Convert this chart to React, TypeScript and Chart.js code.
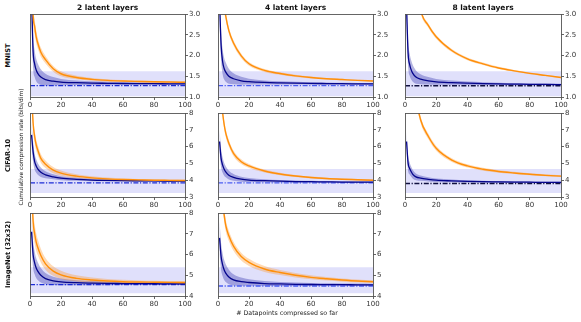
import React, { useEffect, useRef } from 'react';
import { Chart, registerables } from 'chart.js';
Chart.register(...registerables);

// x positions (datapoints compressed so far)
const N = [1, 2, 3, 4, 5, 7, 10, 15, 20, 30, 40, 50, 60, 70, 80, 90, 100];

// MNIST
const mnist2Blue = [3.4, 2.1, 1.8, 1.65, 1.57, 1.48, 1.42, 1.38, 1.36, 1.345, 1.335, 1.33, 1.325, 1.322, 1.32, 1.318, 1.316];
const mnist2BlueSd = [0.5, 0.4, 0.32, 0.27, 0.24, 0.19, 0.14, 0.1, 0.075, 0.055, 0.045, 0.038, 0.032, 0.028, 0.025, 0.022, 0.02];
const mnist2Orange = [4.5, 3.0, 2.7, 2.45, 2.3, 2.08, 1.9, 1.68, 1.56, 1.47, 1.425, 1.4, 1.385, 1.375, 1.366, 1.36, 1.355];
const mnist2OrangeSd = [0.3, 0.22, 0.18, 0.15, 0.13, 0.11, 0.09, 0.07, 0.06, 0.045, 0.035, 0.03, 0.026, 0.022, 0.02, 0.018, 0.016];

const mnist4Blue = [3.3, 2.25, 1.85, 1.68, 1.6, 1.5, 1.44, 1.39, 1.37, 1.35, 1.34, 1.333, 1.328, 1.324, 1.32, 1.318, 1.316];
const mnist4BlueSd = [0.45, 0.36, 0.3, 0.26, 0.23, 0.18, 0.13, 0.095, 0.07, 0.05, 0.04, 0.034, 0.03, 0.026, 0.023, 0.021, 0.019];
const mnist4Orange = [6.0, 4.5, 3.7, 3.2, 2.95, 2.6, 2.3, 1.99, 1.8, 1.64, 1.565, 1.51, 1.47, 1.44, 1.42, 1.4, 1.385];
const mnist4OrangeSd = [0.2, 0.15, 0.12, 0.1, 0.09, 0.075, 0.065, 0.055, 0.045, 0.035, 0.03, 0.026, 0.023, 0.02, 0.018, 0.016, 0.015];

const mnist8Blue = [3.15, 2.05, 1.78, 1.65, 1.57, 1.48, 1.43, 1.39, 1.365, 1.345, 1.332, 1.322, 1.315, 1.31, 1.305, 1.302, 1.3];
const mnist8BlueSd = [0.4, 0.32, 0.27, 0.23, 0.2, 0.16, 0.12, 0.09, 0.07, 0.05, 0.04, 0.034, 0.03, 0.026, 0.023, 0.021, 0.019];
const mnist8Orange = [12, 8, 6.5, 5.5, 4.8, 3.9, 3.1, 2.72, 2.45, 2.12, 1.92, 1.8, 1.7, 1.63, 1.57, 1.52, 1.47];
const mnist8OrangeSd = [0.3, 0.2, 0.15, 0.12, 0.1, 0.08, 0.06, 0.05, 0.045, 0.038, 0.033, 0.029, 0.026, 0.023, 0.021, 0.019, 0.018];

// CIFAR-10
const cifar2Blue = [6.7, 5.7, 5.1, 4.85, 4.68, 4.47, 4.32, 4.2, 4.12, 4.05, 4.01, 3.99, 3.975, 3.965, 3.955, 3.95, 3.945];
const cifar2BlueSd = [0.8, 0.6, 0.48, 0.4, 0.35, 0.28, 0.21, 0.15, 0.12, 0.09, 0.075, 0.065, 0.058, 0.052, 0.048, 0.044, 0.04];
const cifar2Orange = [9.5, 7.4, 6.6, 6.1, 5.8, 5.3, 4.95, 4.6, 4.42, 4.24, 4.14, 4.08, 4.04, 4.02, 4.0, 3.99, 3.98];
const cifar2OrangeSd = [0.6, 0.45, 0.38, 0.33, 0.3, 0.26, 0.22, 0.18, 0.15, 0.11, 0.09, 0.075, 0.065, 0.058, 0.052, 0.048, 0.044];

const cifar4Blue = [6.3, 5.3, 4.9, 4.65, 4.5, 4.3, 4.17, 4.06, 4.01, 3.97, 3.94, 3.92, 3.91, 3.9, 3.89, 3.885, 3.88];
const cifar4BlueSd = [0.7, 0.55, 0.45, 0.38, 0.33, 0.26, 0.2, 0.15, 0.12, 0.09, 0.075, 0.065, 0.058, 0.052, 0.048, 0.044, 0.04];
const cifar4Orange = [11, 9, 8.0, 7.3, 6.8, 6.2, 5.6, 5.1, 4.85, 4.55, 4.37, 4.25, 4.16, 4.1, 4.06, 4.03, 4.0];
const cifar4OrangeSd = [0.4, 0.32, 0.28, 0.25, 0.23, 0.2, 0.17, 0.14, 0.12, 0.09, 0.075, 0.065, 0.058, 0.052, 0.048, 0.044, 0.04];

const cifar8Blue = [6.3, 5.0, 4.7, 4.5, 4.35, 4.2, 4.12, 4.05, 4.0, 3.96, 3.93, 3.91, 3.9, 3.89, 3.88, 3.87, 3.865];
const cifar8BlueSd = [0.6, 0.45, 0.36, 0.3, 0.26, 0.2, 0.16, 0.12, 0.1, 0.08, 0.065, 0.057, 0.05, 0.046, 0.042, 0.039, 0.036];
const cifar8Orange = [30, 20, 15, 12.5, 11, 9, 7.6, 6.6, 5.9, 5.2, 4.85, 4.65, 4.52, 4.43, 4.35, 4.29, 4.24];
const cifar8OrangeSd = [0.5, 0.4, 0.33, 0.29, 0.26, 0.22, 0.19, 0.16, 0.14, 0.11, 0.095, 0.085, 0.075, 0.068, 0.062, 0.057, 0.053];

// ImageNet (32x32)
const imnet2Blue = [7.1, 6.0, 5.6, 5.35, 5.2, 5.0, 4.84, 4.73, 4.68, 4.64, 4.62, 4.605, 4.6, 4.595, 4.59, 4.585, 4.58];
const imnet2BlueSd = [0.8, 0.65, 0.55, 0.48, 0.43, 0.35, 0.27, 0.2, 0.16, 0.12, 0.1, 0.085, 0.075, 0.068, 0.062, 0.057, 0.052];
const imnet2Orange = [9.5, 7.6, 7.0, 6.6, 6.35, 5.95, 5.55, 5.2, 5.02, 4.85, 4.77, 4.72, 4.69, 4.675, 4.665, 4.655, 4.65];
const imnet2OrangeSd = [0.7, 0.55, 0.47, 0.42, 0.38, 0.33, 0.28, 0.23, 0.2, 0.15, 0.12, 0.1, 0.088, 0.078, 0.07, 0.064, 0.058];

const imnet4Blue = [6.8, 5.9, 5.5, 5.25, 5.1, 4.92, 4.78, 4.69, 4.65, 4.6, 4.58, 4.565, 4.555, 4.55, 4.545, 4.54, 4.535];
const imnet4BlueSd = [0.8, 0.65, 0.55, 0.48, 0.43, 0.35, 0.27, 0.2, 0.16, 0.12, 0.1, 0.085, 0.075, 0.068, 0.062, 0.057, 0.052];
const imnet4Orange = [13, 10, 8.6, 7.9, 7.4, 6.9, 6.4, 5.9, 5.62, 5.3, 5.13, 5.0, 4.9, 4.83, 4.77, 4.72, 4.69];
const imnet4OrangeSd = [0.5, 0.4, 0.35, 0.31, 0.28, 0.25, 0.22, 0.19, 0.17, 0.14, 0.12, 0.105, 0.095, 0.085, 0.078, 0.072, 0.066];

// reference (dash-dot) values and shaded ranges per dataset row
const REF = [[1.275, 1.273, 1.27], [3.84, 3.84, 3.8], [4.55, 4.48]];
const BAND_LO = [1.02, 3.24, 4.13];
const BAND_HI = [1.62, 4.66, 5.38];

// axes
const Y_MIN = [1, 3, 4];
const Y_MAX = [3, 8, 8];
const Y_STEP = [0.5, 1, 1];
const X_TICK_STEP = 20;

const COL_TITLES = ['2 latent layers', '4 latent layers', '8 latent layers'];
const ROW_TITLES = ['MNIST', 'CIFAR-10', 'ImageNet (32x32)'];
const Y_LABEL = 'Cumulative compression rate (bits/dim)';
const X_LABEL = '# Datapoints compressed so far';

// layout (pixels)
const COL_L = [30, 218, 405];
const COL_R = [185, 373, 561];
const ROW_T = [14, 113, 213];
const ROW_B = [97, 197, 296];
const PAD_L = 8;
const PAD_T = 6;
const YAX_W = 24;
const XAX_H = 14;

const ORANGE = '#ff8f0a';
const ORANGE_FILL = 'rgba(255,150,40,0.35)';
const BLUE = '#05058c';
const BLUE_FILL = 'rgba(40,40,170,0.35)';
const BAND_FILL = 'rgba(100,100,235,0.2)';
const REF_COLORS = ['#1b2bd6', '#4b5df2', '#101040'];
const FONT = 'DejaVu Sans';

const PANELS = [
  { r: 0, c: 0, blue: mnist2Blue, blueSd: mnist2BlueSd, orange: mnist2Orange, orangeSd: mnist2OrangeSd },
  { r: 0, c: 1, blue: mnist4Blue, blueSd: mnist4BlueSd, orange: mnist4Orange, orangeSd: mnist4OrangeSd },
  { r: 0, c: 2, blue: mnist8Blue, blueSd: mnist8BlueSd, orange: mnist8Orange, orangeSd: mnist8OrangeSd },
  { r: 1, c: 0, blue: cifar2Blue, blueSd: cifar2BlueSd, orange: cifar2Orange, orangeSd: cifar2OrangeSd },
  { r: 1, c: 1, blue: cifar4Blue, blueSd: cifar4BlueSd, orange: cifar4Orange, orangeSd: cifar4OrangeSd },
  { r: 1, c: 2, blue: cifar8Blue, blueSd: cifar8BlueSd, orange: cifar8Orange, orangeSd: cifar8OrangeSd },
  { r: 2, c: 0, blue: imnet2Blue, blueSd: imnet2BlueSd, orange: imnet2Orange, orangeSd: imnet2OrangeSd },
  { r: 2, c: 1, blue: imnet4Blue, blueSd: imnet4BlueSd, orange: imnet4Orange, orangeSd: imnet4OrangeSd },
];

const framePlugin = {
  id: 'frame',
  afterDatasetsDraw(chart: any) {
    const { ctx, chartArea: a } = chart;
    ctx.save();
    ctx.strokeStyle = '#555';
    ctx.lineWidth = 0.9;
    ctx.strokeRect(Math.round(a.left) + 0.5, Math.round(a.top) + 0.5, Math.round(a.right - a.left), Math.round(a.bottom - a.top));
    ctx.restore();
  },
};

function pts(vals: number[]) {
  return N.map((x, i) => ({ x, y: vals[i] }));
}

function Panel({ p }: { p: any }) {
  const ref = useRef<HTMLCanvasElement>(null);
  const W = COL_R[p.c] - COL_L[p.c];
  const H = ROW_B[p.r] - ROW_T[p.r];
  const cw = W + PAD_L + YAX_W;
  const ch = H + PAD_T + XAX_H;
  useEffect(() => {
    const line = (data: any, color: string, width: number, extra: any = {}) => ({
      data, borderColor: color, borderWidth: width, pointRadius: 0, fill: false,
      cubicInterpolationMode: 'monotone', ...extra,
    });
    const refVal = REF[p.r][p.c];
    const datasets: any[] = [
      line(pts(p.orange), ORANGE, 1.4),
      line(pts(p.blue), BLUE, 1.3),
      line([{ x: 0, y: refVal }, { x: 100, y: refVal }], REF_COLORS[p.c], 1.4, { borderDash: [5, 1.6, 1.2, 1.6] }),
      line(pts(p.orange.map((v: number, i: number) => v + p.orangeSd[i])), 'rgba(0,0,0,0)', 0, { fill: { target: 4 }, backgroundColor: ORANGE_FILL }),
      line(pts(p.orange.map((v: number, i: number) => v - p.orangeSd[i])), 'rgba(0,0,0,0)', 0),
      line(pts(p.blue.map((v: number, i: number) => v + p.blueSd[i])), 'rgba(0,0,0,0)', 0, { fill: { target: 6 }, backgroundColor: BLUE_FILL }),
      line(pts(p.blue.map((v: number, i: number) => v - p.blueSd[i])), 'rgba(0,0,0,0)', 0),
      line([{ x: 0, y: BAND_HI[p.r] }, { x: 100, y: BAND_HI[p.r] }], 'rgba(0,0,0,0)', 0, { fill: { target: 8 }, backgroundColor: BAND_FILL }),
      line([{ x: 0, y: BAND_LO[p.r] }, { x: 100, y: BAND_LO[p.r] }], 'rgba(0,0,0,0)', 0),
    ];
    const chart = new Chart(ref.current as HTMLCanvasElement, {
      type: 'line',
      data: { datasets },
      plugins: [framePlugin],
      options: {
        animation: false,
        responsive: false,
        events: [],
        layout: { padding: { left: PAD_L, top: PAD_T, right: 0, bottom: 0 } },
        plugins: { legend: { display: false }, tooltip: { enabled: false } },
        scales: {
          x: {
            type: 'linear', min: 0, max: 100,
            afterFit: (s: any) => { s.height = XAX_H; },
            border: { display: false },
            grid: { drawOnChartArea: false, drawTicks: true, tickLength: 3, tickColor: '#555', tickWidth: 0.9 },
            ticks: { stepSize: X_TICK_STEP, maxRotation: 0, autoSkip: false, padding: 1, color: '#333', font: { family: FONT, size: 7 } },
          },
          y: {
            type: 'linear', position: 'right', min: Y_MIN[p.r], max: Y_MAX[p.r],
            afterFit: (s: any) => { s.width = YAX_W; },
            border: { display: false },
            grid: { drawOnChartArea: false, drawTicks: true, tickLength: 3, tickColor: '#555', tickWidth: 0.9 },
            ticks: {
              stepSize: Y_STEP[p.r], padding: 1, color: '#333', font: { family: FONT, size: 7 },
              callback: (v: any) => (p.r === 0 ? Number(v).toFixed(1) : String(v)),
            },
          },
        },
      } as any,
    });
    return () => chart.destroy();
  }, []);
  return (
    <canvas
      ref={ref}
      width={cw}
      height={ch}
      style={{ position: 'absolute', left: COL_L[p.c] - PAD_L, top: ROW_T[p.r] - PAD_T, width: cw, height: ch }}
    />
  );
}

export default function App() {
  return (
    <div style={{ position: 'absolute', left: 0, top: 0, width: 581, height: 322, background: '#fff', overflow: 'hidden', fontFamily: FONT }}>
      {PANELS.map((p) => (
        <Panel key={`${p.r}-${p.c}`} p={p} />
      ))}
      {COL_TITLES.map((t, c) => (
        <div key={t} style={{ position: 'absolute', left: (COL_L[c] + COL_R[c]) / 2 - 60, width: 120, top: 3.5, textAlign: 'center', fontSize: 7.5, fontWeight: 'bold', lineHeight: 1, color: '#111', whiteSpace: 'nowrap' }}>{t}</div>
      ))}
      {ROW_TITLES.map((t, r) => (
        <div key={t} style={{ position: 'absolute', left: 8 - 50, width: 100, top: (ROW_T[r] + ROW_B[r]) / 2 - 3.5, height: 7, textAlign: 'center', fontSize: 6.6, fontWeight: 'bold', lineHeight: 1, color: '#111', whiteSpace: 'nowrap', transform: 'rotate(-90deg)' }}>{t}</div>
      ))}
      <div style={{ position: 'absolute', left: 22 - 80, width: 160, top: 147 - 3, height: 6, textAlign: 'center', fontSize: 5.9, lineHeight: 1, color: '#222', whiteSpace: 'nowrap', transform: 'rotate(-90deg)' }}>{Y_LABEL}</div>
      <div style={{ position: 'absolute', left: 287 - 80, width: 160, top: 310, textAlign: 'center', fontSize: 6.3, lineHeight: 1, color: '#222', whiteSpace: 'nowrap', transform: 'translateZ(0)' }}>{X_LABEL}</div>
    </div>
  );
}
